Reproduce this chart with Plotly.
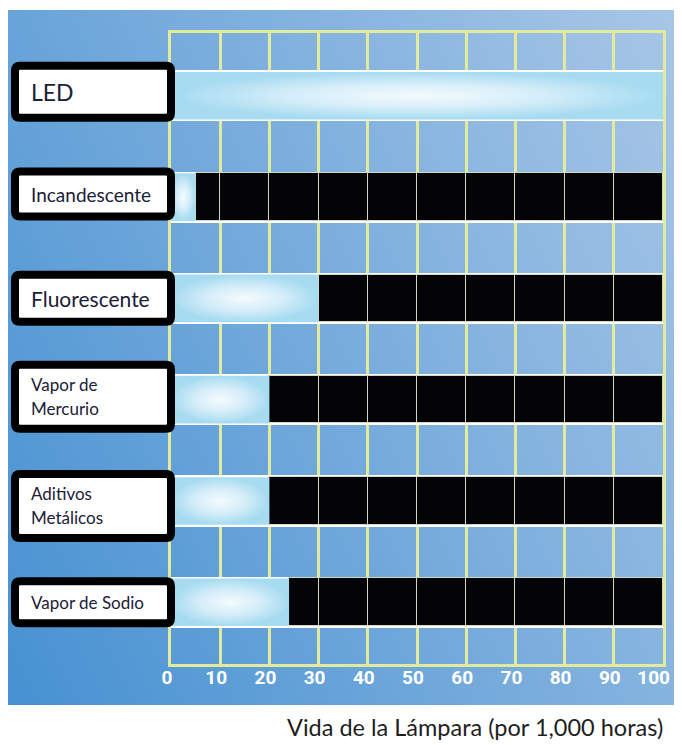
import base64
import plotly.graph_objects as go

# ---------------- data ----------------
categories = ["LED", "Incandescente", "Fluorescente", "Vapor de Mercurio",
              "Aditivos Metálicos", "Vapor de Sodio"]
lifetime_k_hours = [100, 5, 30, 20, 20, 24]
label_lines = [["LED"], ["Incandescente"], ["Fluorescente"], ["Vapor de", "Mercurio"],
               ["Aditivos", "Metálicos"], ["Vapor de Sodio"]]
x_ticks = [0, 10, 20, 30, 40, 50, 60, 70, 80, 90, 100]
x_title = "Vida de la Lámpara (por 1,000 horas)"

# ---------------- layout constants ----------------
W_PX, H_PX = 682, 745
L, R, T, B = 171, 19, 33, 81
PW = W_PX - L - R
PH = H_PX - T - B
Y_RANGE = [5.61, -0.62]
X_MAX = x_ticks[-1]
BAR_W = 0.47
RIM_W = 0.505

label_font = ["Lato", "Open Sans", "sans-serif"]
label_sizes = [23, 19, 21, 17, 17, 17]
box_heights = [60, 53, 55, 72, 72, 50]
box_offsets = [-4, -3, 0, -3, 5, 0]
line_gap = 24

GRID = "#e2eb9c"


def px_x(px):
    return (px - L) / PW


def px_y(py):
    return (T + PH - py) / PH


def idx_to_py(i):
    return T + (i - Y_RANGE[1]) / (Y_RANGE[0] - Y_RANGE[1]) * PH


n = len(categories)
ypos = list(range(n))

fig = go.Figure()

# white rims behind each row
fig.add_trace(go.Bar(
    y=ypos, x=[X_MAX] * n, base=[0] * n, orientation="h", width=RIM_W,
    marker=dict(color="white", line=dict(width=0)), hoverinfo="skip", showlegend=False))

# black remainder, split at the grid positions
seg_y, seg_base, seg_len = [], [], []
for i, v in enumerate(lifetime_k_hours):
    edges = [v] + [t for t in x_ticks if t > v]
    for a, b in zip(edges[:-1], edges[1:]):
        seg_y.append(i)
        seg_base.append(a)
        seg_len.append(b - a)
fig.add_trace(go.Bar(
    y=seg_y, x=seg_len, base=seg_base, orientation="h", width=BAR_W,
    marker=dict(color="#030308", line=dict(color="rgba(215,220,195,0.95)", width=1)),
    hoverinfo="skip", showlegend=False))

# light lifetime bars with radial highlight
for i, v in enumerate(lifetime_k_hours):
    h = BAR_W / 2
    fig.add_trace(go.Scatter(
        x=[0, v, v, 0, 0], y=[i - h, i - h, i + h, i + h, i - h],
        mode="lines", fill="toself",
        line=dict(width=0, color="rgba(0,0,0,0)"),
        fillgradient=dict(type="radial",
                          colorscale=[[0, "#f4fafd"], [0.5, "#d6eef9"], [1, "#a6dbf0"]]),
        hoverinfo="skip", showlegend=False))

# ---------------- background panel ----------------
svg = ('<svg xmlns="http://www.w3.org/2000/svg" width="666" height="695" '
       'viewBox="0 0 666 695" preserveAspectRatio="none"><defs>'
       '<linearGradient id="g" x1="0" y1="1" x2="1.193" y2="0.358">'
       '<stop offset="0" stop-color="#4691d2"/>'
       '<stop offset="1" stop-color="#a8c6e6"/>'
       '</linearGradient></defs><rect width="666" height="695" fill="url(#g)"/></svg>')
src = "data:image/svg+xml;base64," + base64.b64encode(svg.encode()).decode()
images = [dict(source=src, xref="paper", yref="paper",
               x=px_x(8), y=px_y(10), sizex=(674 - 8) / PW, sizey=(705 - 10) / PH,
               xanchor="left", yanchor="top", sizing="stretch", layer="below")]

# ---------------- label boxes ----------------
shapes = []
annotations = []
for i in range(n):
    cy = idx_to_py(i) + box_offsets[i]
    hh = box_heights[i] / 2 - 4
    x0, x1 = 15, 171
    y0, y1 = cy - hh, cy + hh
    r = 5
    pts = [
        ("M", x0 + r, y0), ("L", x1 - r, y0), ("Q", x1, y0, x1, y0 + r),
        ("L", x1, y1 - r), ("Q", x1, y1, x1 - r, y1),
        ("L", x0 + r, y1), ("Q", x0, y1, x0, y1 - r),
        ("L", x0, y0 + r), ("Q", x0, y0, x0 + r, y0),
    ]
    parts = []
    for p in pts:
        cmd = p[0]
        coords = p[1:]
        cs = []
        for k in range(0, len(coords), 2):
            cs.append(f"{px_x(coords[k]):.5f},{px_y(coords[k + 1]):.5f}")
        parts.append(cmd + " " + " ".join(cs))
    path = " ".join(parts) + " Z"
    shapes.append(dict(type="path", path=path, xref="paper", yref="paper",
                       fillcolor="white", line=dict(color="black", width=8), layer="above"))

    lines = label_lines[i]
    m = len(lines)
    for j, txt in enumerate(lines):
        shift = ((m - 1) / 2 - j) * line_gap - box_offsets[i]
        annotations.append(dict(
            text=txt, xref="paper", yref="y", x=px_x(29), y=i, yshift=shift,
            xanchor="left", yanchor="middle", showarrow=False,
            font=dict(family=", ".join(label_font), size=label_sizes[i], color="#1a2036")))

annotations.append(dict(
    text=x_title, xref="paper", yref="paper", x=px_x(665), y=px_y(727),
    xanchor="right", yanchor="middle", showarrow=False,
    font=dict(family="Lato, Open Sans, sans-serif", size=23.5, color="#1e1e1e")))

# tick texts: the last one padded with a figure space so it stays inside the panel
tick_text = [str(t) for t in x_ticks]
tick_text[-1] = tick_text[-1] + "\u2007"

fig.update_layout(
    width=W_PX, height=H_PX, autosize=False,
    margin=dict(l=L, r=R, t=T, b=B, pad=0, autoexpand=False),
    paper_bgcolor="white", plot_bgcolor="rgba(0,0,0,0)",
    barmode="overlay", bargap=0,
    showlegend=False,
    images=images, shapes=shapes, annotations=annotations,
    xaxis=dict(range=[0, X_MAX], tickvals=x_ticks, ticktext=tick_text,
               showgrid=True, gridcolor=GRID, gridwidth=2.5, zeroline=False,
               showline=True, linecolor=GRID, linewidth=2.5, mirror=True,
               ticks="", ticklabelstandoff=-6, ticklabelshift=-4, automargin=False,
               tickfont=dict(family="Roboto, sans-serif",
                             size=19, color="white", weight="bold"),
               fixedrange=True),
    yaxis=dict(range=Y_RANGE, showgrid=False, zeroline=False, showticklabels=False,
               showline=True, linecolor=GRID, linewidth=2.5, mirror=True, ticks="",
               automargin=False, fixedrange=True),
)

fig.write_html("out.html")
